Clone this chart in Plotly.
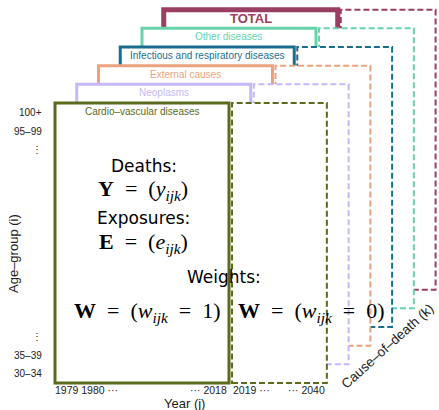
import plotly.graph_objects as go

# ---- data ----
causes = ["Cardio–vascular diseases", "Neoplasms", "External causes",
          "Infectious and respiratory diseases", "Other diseases", "TOTAL"]
cause_colors = ["#5a6b1e", "#c6b8fa", "#eba27e", "#196e8e", "#66d3aa", "#9b3e63"]
fit_years = [1979, 2018]
forecast_years = [2019, 2040]
age_labels = ["30–34", "35–39", "⋮", "⋮", "95–99", "100+"]
age_index = [0, 1, 2, 12, 13, 14]
year_labels_left = ["1979 1980 ···", "2019 ···"]
year_labels_right = ["··· 2018", "··· 2040"]

# layout constants (coordinate system: x = year, y = age-group index)
LAYER_DX = 5     # years shift per cause layer
LAYER_DY = 1     # age-group shift per cause layer
XR = [1965.856, 2066.78]
YR = [-1.946, 20.02]

fig = go.Figure()
fig.add_trace(go.Scatter(x=[XR[0]], y=[YR[0]], mode="markers",
                         marker=dict(opacity=0), hoverinfo="skip", showlegend=False))

shapes = []
annotations = []
n_age = 15
for k in reversed(range(len(causes))):
    col = cause_colors[k]
    y0 = -0.5 + LAYER_DY * k
    y1 = n_age - 0.5 + LAYER_DY * k
    xs0 = fit_years[0] - 0.5 + LAYER_DX * k
    xs1 = fit_years[1] + 0.5 + LAYER_DX * k
    xd0 = forecast_years[0] + 0.2 + LAYER_DX * k
    xd1 = forecast_years[1] + 1.0 + LAYER_DX * k
    shapes.append(dict(type="rect", xref="x", yref="y", x0=xd0, x1=xd1, y0=y0, y1=y1,
                       line=dict(color=col, width=2, dash="6px,3px"), fillcolor="white"))
    shapes.append(dict(type="rect", xref="x", yref="y", x0=xs0, x1=xs1, y0=y0, y1=y1,
                       line=dict(color=col, width=5 if causes[k] == "TOTAL" else 3),
                       fillcolor="white"))
    is_total = causes[k] == "TOTAL"
    annotations.append(dict(x=(xs0 + xs1) / 2, y=y1 - 0.45, xref="x", yref="y",
                            text="<b>%s</b>" % causes[k] if is_total else causes[k],
                            showarrow=False, xanchor="center", yanchor="middle",
                            font=dict(family="Liberation Sans", size=13 if is_total else 10,
                                      color=col)))

# age-group tick labels
for lab, idx in zip(age_labels, age_index):
    annotations.append(dict(x=1975.9, y=idx, xref="x", yref="y", text=lab, showarrow=False,
                            xanchor="right", yanchor="middle",
                            font=dict(family="Liberation Sans", size=10, color="#222")))

# year tick labels
ty = -0.88
tick_font = dict(family="Liberation Sans", size=10.5, color="#222")
annotations.append(dict(x=fit_years[0] - 0.9, y=ty, xref="x", yref="y", text=year_labels_left[0],
                        showarrow=False, xanchor="left", yanchor="middle", font=tick_font))
annotations.append(dict(x=fit_years[1] + 0.4, y=ty, xref="x", yref="y", text=year_labels_right[0],
                        showarrow=False, xanchor="right", yanchor="middle", font=tick_font))
annotations.append(dict(x=forecast_years[0] + 0.0, y=ty, xref="x", yref="y", text=year_labels_left[1],
                        showarrow=False, xanchor="left", yanchor="middle", font=tick_font))
annotations.append(dict(x=forecast_years[1] + 1.0, y=ty, xref="x", yref="y", text=year_labels_right[1],
                        showarrow=False, xanchor="right", yanchor="middle", font=tick_font))

# axis titles
title_font = dict(family="Liberation Sans", size=13, color="#222")
annotations.append(dict(xref="paper", yref="paper", x=184 / 439, y=1 - 403 / 410, text="Year (j)",
                        showarrow=False, xanchor="center", yanchor="middle", font=title_font))
annotations.append(dict(xref="paper", yref="paper", x=13 / 439, y=1 - 254 / 410, text="Age–group (i)",
                        showarrow=False, xanchor="center", yanchor="middle", textangle=-90,
                        font=title_font))
annotations.append(dict(xref="paper", yref="paper", x=387 / 439, y=1 - 346 / 410,
                        text="Cause–of–death (k)", showarrow=False, xanchor="center",
                        yanchor="middle", textangle=-42,
                        font=dict(family="Liberation Sans", size=13.5, color="#222")))

# math/text labels
sans = dict(family="DejaVu Sans", size=17, color="black")
serif = dict(family="Liberation Serif", size=22, color="black")
SP = "\u2002"
def px(xp, yp):
    return dict(xref="paper", yref="paper", x=xp / 439, y=1 - yp / 410)

texts = [
    (144, 166, "Deaths:", sans),
    (143, 190, "<b>Y</b>" + SP + "=" + SP + "(<i>y</i><sub><i>ijk</i></sub>)", serif),
    (143, 218, "Exposures:", sans),
    (143, 243, "<b>E</b>" + SP + "=" + SP + "(<i>e</i><sub><i>ijk</i></sub>)", serif),
    (224, 277, "Weights:", sans),
    (147, 312, "<b>W</b>" + SP + "=" + SP + "(<i>w</i><sub><i>ijk</i></sub>" + SP + "=" + SP + "1)", serif),
    (311, 312, "<b>W</b>" + SP + "=" + SP + "(<i>w</i><sub><i>ijk</i></sub>" + SP + "=" + SP + "0)", serif),
]
for xp, yp, t, f in texts:
    a = px(xp, yp)
    a.update(text=t, showarrow=False, xanchor="center", yanchor="middle", font=f)
    annotations.append(a)

fig.update_layout(
    width=439, height=410, margin=dict(l=0, r=0, t=0, b=0),
    paper_bgcolor="white", plot_bgcolor="white",
    xaxis=dict(range=XR, visible=False, fixedrange=True),
    yaxis=dict(range=YR, visible=False, fixedrange=True),
    shapes=shapes, annotations=annotations, showlegend=False,
)
fig.write_html("out.html", config={"displayModeBar": False, "staticPlot": True},
               post_script="document.body.style.margin='0';document.body.style.overflow='hidden';")
